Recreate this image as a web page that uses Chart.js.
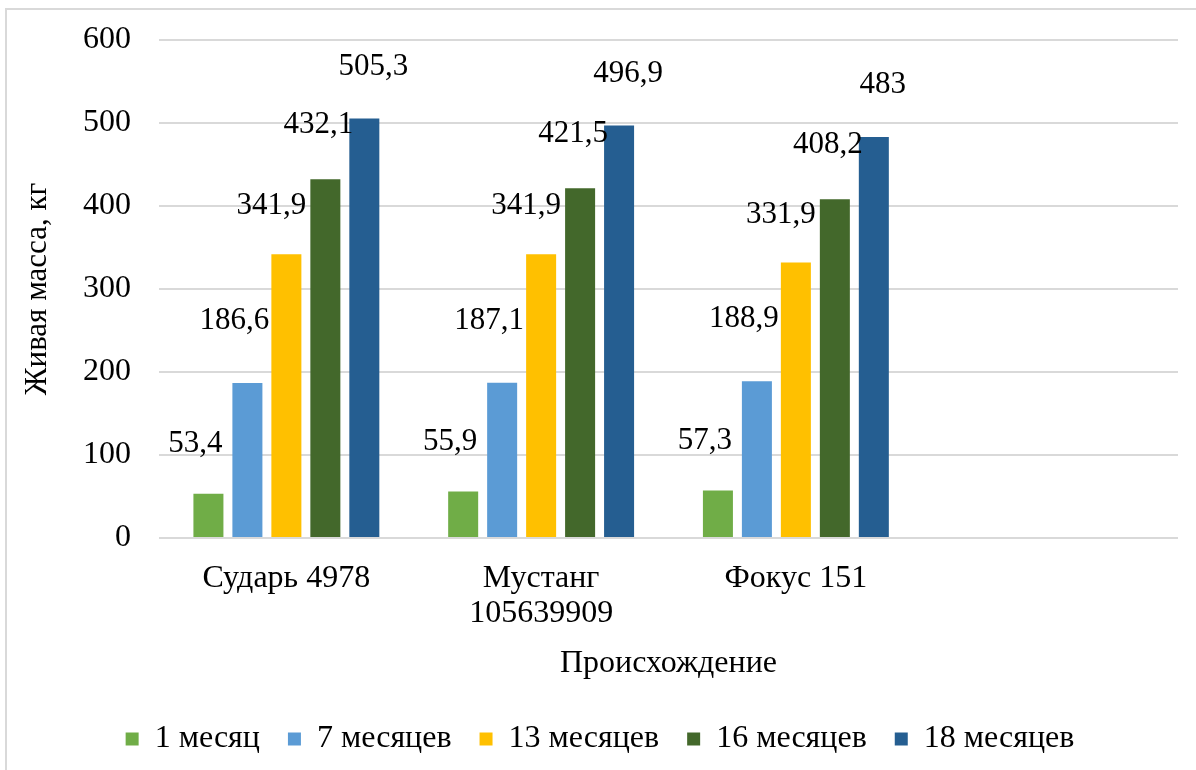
<!DOCTYPE html>
<html lang="ru">
<head>
<meta charset="utf-8">
<title>Живая масса по происхождению</title>
<script src="https://cdn.jsdelivr.net/npm/chart.js@4.4.1/dist/chart.umd.min.js"></script>
<style>
  html, body { margin: 0; padding: 0; background: #fff; overflow: hidden; }
  #wrap { position: relative; width: 1196px; height: 770px; }
  #frame { position: absolute; left: 5px; top: 8px; width: 1200px; height: 780px; border: 2px solid #d9d9d9; box-sizing: border-box; pointer-events: none; }
  canvas { position: absolute; left: 0; top: 0; }
</style>
</head>
<body>
<div id="wrap">
  <canvas id="mass-chart" width="1196" height="770"></canvas>
  <div id="frame"></div>
</div>
<script>
// categories on the x axis (4th slot is empty in the original)
const categories = ["Сударь 4978", ["Мустанг", "105639909"], "Фокус 151", ""];
const seriesNames = ["1 месяц", "7 месяцев", "13 месяцев", "16 месяцев", "18 месяцев"];

const month1 = [53.4, 55.9, 57.3, null];
const month7 = [186.6, 187.1, 188.9, null];
const month13 = [341.9, 341.9, 331.9, null];
const month16 = [432.1, 421.5, 408.2, null];
const month18 = [505.3, 496.9, 483, null];

const yTicks = [0, 100, 200, 300, 400, 500, 600];

const colors = ["#70ad47", "#5b9bd5", "#ffc000", "#43682b", "#255e91"];
// rough label nudges per series, labels sit above and a bit left of bars
const labelShift = [[-13, -50], [-13, -62], [-15, -48], [-7, -54], [9, -52]];

const FONT = "'Liberation Serif', 'Times New Roman', serif";

const fmt = (v) => String(v).replace(".", ",");

const valueLabels = {
  id: "valueLabels",
  afterDatasetsDraw(chart) {
    const ctx = chart.ctx;
    ctx.save();
    ctx.font = `31px ${FONT}`;
    ctx.fillStyle = "#000";
    ctx.textAlign = "center";
    ctx.textBaseline = "middle";
    chart.data.datasets.forEach((ds, i) => {
      const meta = chart.getDatasetMeta(i);
      const [dx, dy] = labelShift[i];
      meta.data.forEach((bar, j) => {
        const v = ds.data[j];
        if (v == null) return;
        ctx.fillText(fmt(v), bar.x + dx, bar.y + dy);
      });
    });
    ctx.restore();
  },
};

const allSeries = [month1, month7, month13, month16, month18];

new Chart(document.querySelector("#mass-chart"), {
  type: "bar",
  data: {
    labels: categories,
    datasets: allSeries.map((data, i) => ({
      label: seriesNames[i],
      data,
      backgroundColor: colors[i],
      borderWidth: 0,
      categoryPercentage: 0.765,
      barPercentage: 0.77,
    })),
  },
  options: {
    responsive: false,
    animation: false,
    layout: { padding: { top: 40, right: 18, left: 22, bottom: 5 } },
    plugins: {
      tooltip: { enabled: false },
      legend: {
        position: "bottom",
        labels: {
          font: { family: FONT, size: 32 },
          color: "#000",
          boxWidth: 13,
          boxHeight: 13,
          padding: 28,
        },
      },
    },
    scales: {
      x: {
        grid: { display: false },
        border: { display: false },
        ticks: {
          font: { family: FONT, size: 32, lineHeight: 1.1 },
          color: "#000",
          padding: 15,
          maxRotation: 0,
          autoSkip: false,
        },
        title: {
          display: true,
          text: "Происхождение",
          font: { family: FONT, size: 32, lineHeight: 1.0 },
          color: "#000",
          padding: { top: 15, bottom: 15 },
        },
        afterFit(scale) { scale.height = 157; },
      },
      y: {
        min: 0,
        max: 600,
        afterBuildTicks(scale) { scale.ticks = yTicks.map((value) => ({ value })); },
        grid: { color: "#d9d9d9", lineWidth: 2, drawTicks: false },
        border: { display: false },
        ticks: {
          font: { family: FONT, size: 32 },
          color: "#000",
          padding: 28,
        },
        title: {
          display: true,
          text: "Живая масса, кг",
          font: { family: FONT, size: 31, lineHeight: 1.0 },
          color: "#000",
          padding: { top: 0, bottom: 0 },
        },
        afterFit(scale) {
          scale.width = 137;
          scale.paddingTop = 0;
          scale.paddingBottom = 0;
        },
      },
    },
  },
  plugins: [valueLabels],
});
</script>
</body>
</html>
